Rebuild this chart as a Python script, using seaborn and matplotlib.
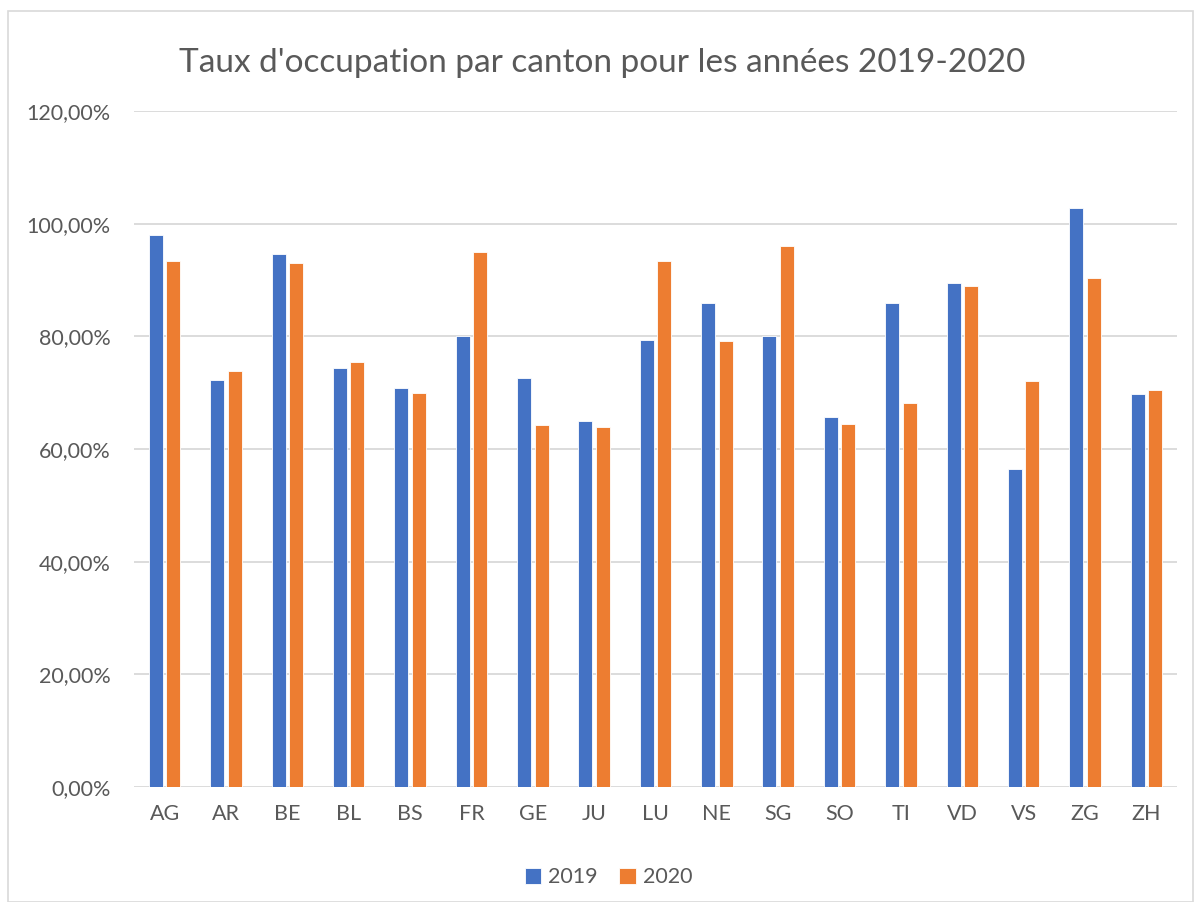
import pandas as pd
import seaborn as sns
import matplotlib.pyplot as plt
from matplotlib.ticker import FuncFormatter
from matplotlib.patches import Rectangle

cantons = ["AG", "AR", "BE", "BL", "BS", "FR", "GE", "JU", "LU",
           "NE", "SG", "SO", "TI", "VD", "VS", "ZG", "ZH"]
taux_2019 = [97.9, 72.2, 94.7, 74.3, 70.8, 80.1, 72.6, 65.0, 79.3,
             86.0, 80.0, 65.7, 85.9, 89.4, 56.4, 102.8, 69.8]
taux_2020 = [93.3, 73.8, 93.0, 75.4, 69.9, 95.0, 64.2, 63.9, 93.4,
             79.1, 96.0, 64.4, 68.1, 88.9, 72.0, 90.4, 70.4]
years = ["2019", "2020"]
y_ticks = [0, 20, 40, 60, 80, 100, 120]

df = pd.DataFrame({
    "canton": cantons * 2,
    "annee": [years[0]] * len(cantons) + [years[1]] * len(cantons),
    "taux": taux_2019 + taux_2020,
})

sns.set_style("white")
plt.rcParams['font.family'] = ['Lato', 'DejaVu Sans']
txt_color = "#595959"
grid_color = "#D9D9D9"

fig = plt.figure(figsize=(11.96, 9.02), dpi=100)
ax = fig.add_axes([134 / 1196, 1 - 787 / 902, (1177 - 134) / 1196, (787 - 111) / 902])

sns.barplot(data=df, x="canton", y="taux", hue="annee", order=cantons,
            hue_order=years, palette=["#4472C4", "#ED7D31"],
            width=0.57, gap=0.2, edgecolor="white", linewidth=0.6,
            saturation=1, ax=ax)

ax.set_xlim(-0.5, len(cantons) - 0.5)
ax.set_ylim(0, 120)
ax.set_yticks(y_ticks)
ax.yaxis.set_major_formatter(FuncFormatter(lambda v, p: f"{v:.2f}".replace(".", ",") + "%"))
ax.grid(axis="y", color=grid_color, linewidth=1.3)
ax.set_axisbelow(True)
for s in ax.spines.values():
    s.set_visible(False)
ax.tick_params(axis="both", length=0, labelsize=15.5, colors=txt_color)
ax.tick_params(axis="y", pad=17)
ax.tick_params(axis="x", pad=12)
ax.set_xlabel("")
ax.set_ylabel("")

ax.legend(loc="upper center", bbox_to_anchor=(0.455, -0.09), ncol=2, frameon=False,
          fontsize=15.5, labelcolor=txt_color, handlelength=0.75, handleheight=0.75,
          handletextpad=0.35, columnspacing=1.0)

fig.text(602 / 1196, 1 - 63 / 902, "Taux d'occupation par canton pour les années 2019-2020",
         ha="center", va="center", fontsize=24, color=txt_color)

fig.patches.append(Rectangle((8 / 1196, 0), (1193 - 8) / 1196, 1 - 11 / 902,
                             transform=fig.transFigure, fill=False,
                             edgecolor=grid_color, linewidth=1.2))

fig.savefig("out.png", dpi=100)
